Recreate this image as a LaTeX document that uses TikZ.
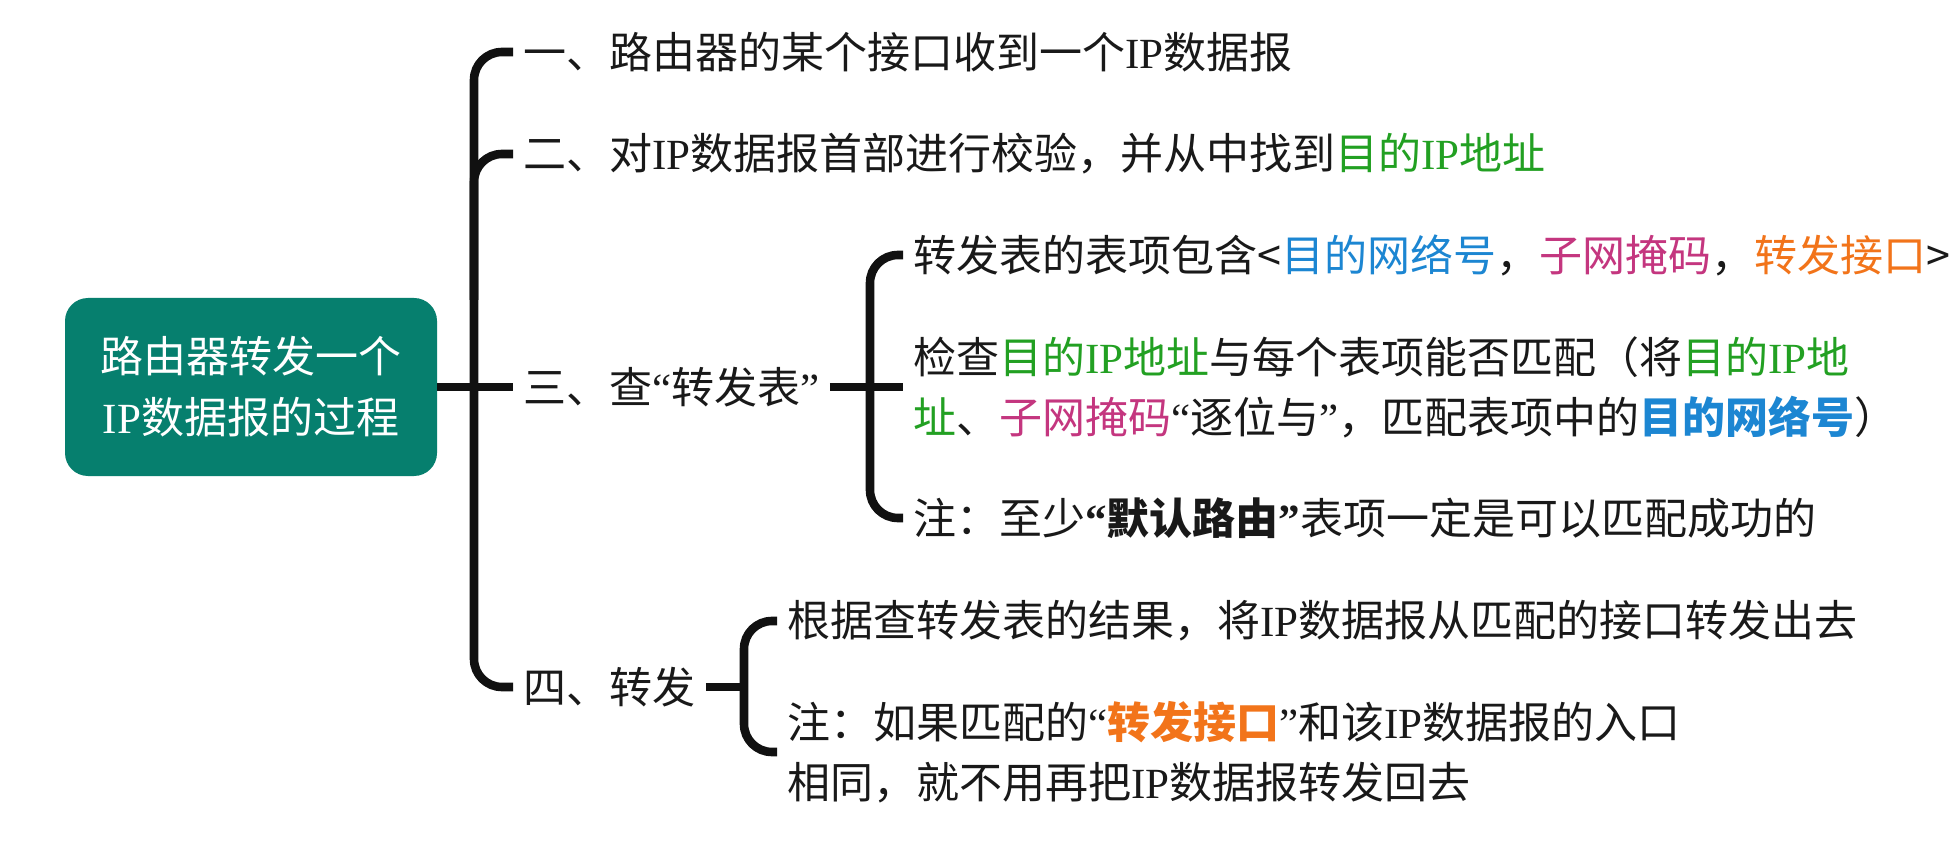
\documentclass[tikz,border=0pt]{standalone}
\usepackage{fontspec}
\setmainfont{Noto Sans CJK SC}
\newfontfamily\latf{Liberation Serif}
\newcommand\IP{{\latf IP}}
\newcommand\qL{{\latf “}}
\newcommand\qR{{\latf ”}}
\definecolor{cteal}{HTML}{067F6E}
\definecolor{cgreen}{HTML}{22A022}
\definecolor{cblue}{HTML}{1C86D2}
\definecolor{cmag}{HTML}{C4367F}
\definecolor{corange}{HTML}{F2741A}
\definecolor{cline}{HTML}{111111}
\begin{document}
\begin{tikzpicture}[x=0.5pt,y=-0.5pt,
  txt/.style={anchor=west, inner xsep=5pt, inner ysep=0pt, align=left,
    font=\fontsize{21.5pt}{30pt}\selectfont, text=black!90},
  rootbox/.style={fill=cteal, rounded corners=11.5pt, text=white, align=center,
    minimum width=186pt, minimum height=89pt, inner sep=0pt,
    font=\fontsize{21.5pt}{30.5pt}\selectfont},
  conn/.style={line width=4.3pt, draw=cline, rounded corners=14pt}]
\fill[white] (0,0) rectangle (1958,855);
\useasboundingbox (0,0) rectangle (1958,855);

\node[rootbox] (root) at (251,387) {路由器转发一个\\\IP 数据报的过程};

\node[txt] (n1) at (513,52) {一、路由器的某个接口收到一个\IP 数据报};
\node[txt] (n2) at (513,154) {二、对\IP 数据报首部进行校验，并从中找到\textcolor{cgreen}{目的\IP 地址}};
\node[txt] (n3) at (513,387) {三、查\qL 转发表\qR};
\node[txt] (n4) at (513,687) {四、转发};

\node[txt] (n31) at (903,255) {转发表的表项包含<\textcolor{cblue}{目的网络号}，\textcolor{cmag}{子网掩码}，\textcolor{corange}{转发接口}>};
\node[txt] (n32) at (903,387) {检查\textcolor{cgreen}{目的\IP 地址}与每个表项能否匹配（将\textcolor{cgreen}{目的\IP 地}\\\textcolor{cgreen}{址}、\textcolor{cmag}{子网掩码}\qL 逐位与\qR ，匹配表项中的\textcolor{cblue}{\bfseries 目的网络号}）};
\node[txt] (n33) at (903,518) {注：至少\textbf{\qL 默认路由\qR}表项一定是可以匹配成功的};

\node[txt] (n41) at (777,621) {根据查转发表的结果，将\IP 数据报从匹配的接口转发出去};
\node[txt] (n42) at (777,752) {注：如果匹配的\qL\textcolor{corange}{\bfseries 转发接口}\qR 和该\IP 数据报的入口\\相同，就不用再把\IP 数据报转发回去};

\coordinate (J) at (474,387);
\coordinate (t2) at (474,300);
\draw[conn] (root.east) -- (n3.west);
\draw[conn] (n1.west) -| (J) |- (n4.west);
\draw[conn] (t2) |- (n2.west);

\coordinate (J3) at (870,387);
\draw[conn] (n3.east) -- (n32.west);
\draw[conn] (n31.west) -| (J3) |- (n33.west);

\coordinate (J4) at (744,687);
\draw[conn] (n4.east) -- (J4);
\draw[conn] (n41.west) -| (J4) |- (n42.west);
\end{tikzpicture}
\end{document}
